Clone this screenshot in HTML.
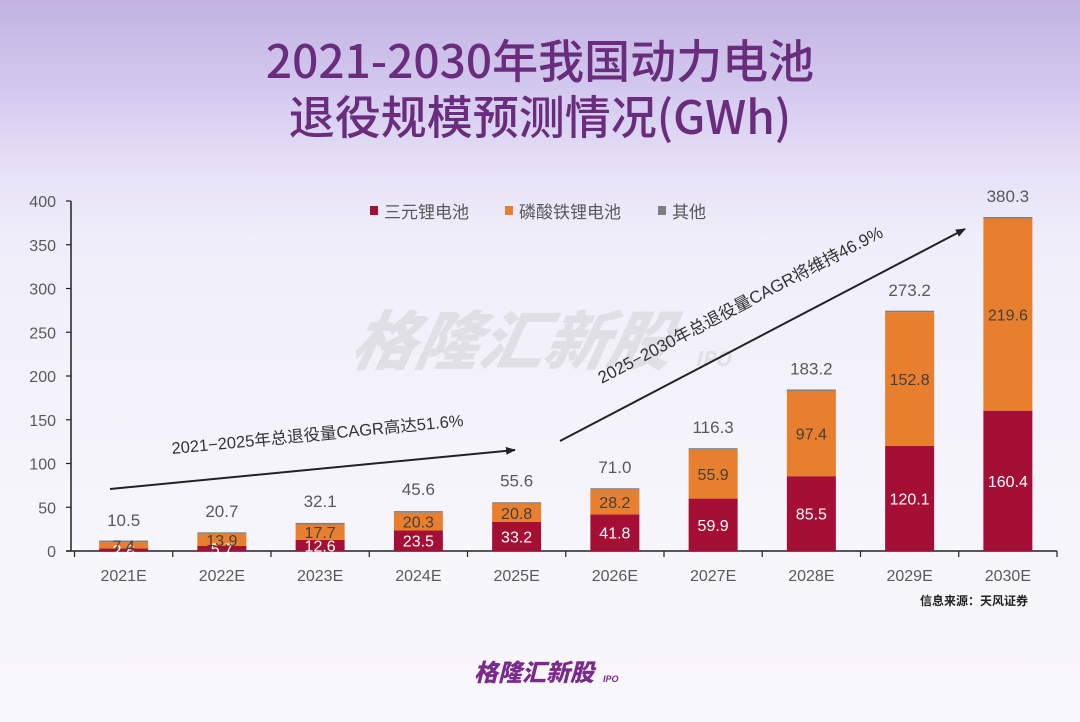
<!DOCTYPE html>
<html><head><meta charset="utf-8">
<style>
html,body{margin:0;padding:0;}
body{width:1080px;height:722px;overflow:hidden;position:relative;font-family:"Liberation Sans","Noto Sans CJK SC",sans-serif;
background:linear-gradient(180deg,#c2b3e2 0px,#d3c9ee 90px,#e6e1f7 170px,#f0eefa 240px,#f6f5fb 500px,#f8f7fb 722px);}
svg{position:absolute;left:0;top:0;}
</style></head>
<body>
<svg id="chart" width="1080" height="722" viewBox="0 0 1080 722">
  <text x="540" y="78" text-anchor="middle" font-size="46" fill="#6a2c7c" font-family="'Noto Sans CJK SC',sans-serif" font-weight="500">2021-2030年我国动力电池</text>
  <text x="540" y="134" text-anchor="middle" font-size="46" fill="#6a2c7c" font-family="'Noto Sans CJK SC',sans-serif" font-weight="500">退役规模预测情况(GWh)</text>
  <g fill="#e0dfe6" font-family="'Noto Sans CJK SC',sans-serif" font-weight="900" font-style="italic">
    <text x="350" y="364" font-size="64" transform="skewX(-12) translate(76,0)">格隆汇新股</text>
    <text x="695" y="366" font-size="20" font-style="italic" font-weight="bold">IPO</text>
  </g>
  <g id="axes"></g>
  <g id="bars"></g>
  <g font-size="17" fill="#595959" font-family="'Noto Sans CJK SC',sans-serif">
    <rect x="370" y="206" width="8" height="9" fill="#a50f35"/>
    <text x="384" y="218">三元锂电池</text>
    <rect x="505" y="206" width="8" height="9" fill="#e87f2e"/>
    <text x="519" y="218">磷酸铁锂电池</text>
    <rect x="658" y="206" width="8" height="9" fill="#7f7f7f"/>
    <text x="672" y="218">其他</text>
  </g>
  <defs><marker id="ah" markerWidth="10" markerHeight="8" refX="9" refY="4" orient="auto" markerUnits="userSpaceOnUse"><path d="M0,0 L10,4 L0,8 z" fill="#222"/></marker></defs>
  <line x1="110" y1="489" x2="515" y2="450" stroke="#222" stroke-width="2" marker-end="url(#ah)"/>
  <text x="318" y="440" font-size="16.5" fill="#333" text-anchor="middle" transform="rotate(-5.5 318 440)" font-family="'Liberation Sans','Noto Sans CJK SC',sans-serif">2021−2025年总退役量CAGR高达51.6%</text>
  <line x1="560" y1="441" x2="965" y2="229" stroke="#222" stroke-width="2" marker-end="url(#ah)"/>
  <text x="743" y="310" font-size="17" fill="#333" text-anchor="middle" transform="rotate(-27.6 743 310)" font-family="'Liberation Sans','Noto Sans CJK SC',sans-serif">2025−2030年总退役量CAGR将维持46.9%</text>
  <text x="1028" y="605" font-size="12" font-weight="bold" fill="#222" text-anchor="end" font-family="'Noto Sans CJK SC',sans-serif">信息来源：天风证券</text>
  <g>
    <text x="474" y="681" font-size="24" font-weight="900" font-style="italic" fill="#7a2a8a" font-family="'Noto Sans CJK SC',sans-serif">格隆汇新股</text>
    <text x="603" y="682" font-size="9" font-weight="bold" font-style="italic" fill="#7a2a8a">IPO</text>
  </g>
</svg>
<script>
const categories = ["2021E","2022E","2023E","2024E","2025E","2026E","2027E","2028E","2029E","2030E"];
const ncmValues = [2.8,5.7,12.6,23.5,33.2,41.8,59.9,85.5,120.1,160.4];
const lfpValues = [7.4,13.9,17.7,20.3,20.8,28.2,55.9,97.4,152.8,219.6];
const totalValues = [10.5,20.7,32.1,45.6,55.6,71.0,116.3,183.2,273.2,380.3];
const yTicks = [0,50,100,150,200,250,300,350,400];

const NS = "http://www.w3.org/2000/svg";
const plotLeft = 74.5, plotRight = 1057, baseY = 551, topY = 201, yMax = 400;
const band = (plotRight - plotLeft) / categories.length;
const barW = 49;
function y(v){ return baseY - v / yMax * (baseY - topY); }
function xc(i){ return plotLeft + band * (i + 0.5); }
function mk(tag, attrs, parent){ const e = document.createElementNS(NS, tag); for (const k in attrs) e.setAttribute(k, attrs[k]); parent.appendChild(e); return e; }

const axes = document.getElementById('axes');
const yAxis = mk('line', {x1:71, y1:201, x2:71, y2:551, stroke:'#222', 'stroke-width':1.5}, axes);


const xAxis = mk('line', {x1:66, y1:551, x2:plotRight, y2:551, stroke:'#222', 'stroke-width':1.5}, axes);


yTicks.forEach(t => {
  const tk = mk('line', {x1:66, y1:y(t), x2:71, y2:y(t), stroke:'#222', 'stroke-width':1.2}, axes);
  
  
  const lb = mk('text', {x:56, y:y(t)+6, 'text-anchor':'end', 'font-size':16, fill:'#595959'}, axes);
  lb.textContent = t;
  
  
});
for (let i = 0; i <= categories.length; i++) {
  const xx = plotLeft + band * i;
  const tk = mk('line', {x1:xx, y1:551, x2:xx, y2:557, stroke:'#222', 'stroke-width':1.2}, axes);
  
  
}
categories.forEach((c, i) => {
  const lb = mk('text', {x:xc(i), y:581, 'text-anchor':'middle', 'font-size':16, fill:'#595959'}, axes);
  lb.textContent = c;
  
  
});

const bars = document.getElementById('bars');
categories.forEach((c, i) => {
  const x0 = xc(i) - barW / 2;
  const n = ncmValues[i], l = lfpValues[i], t = totalValues[i];
  const other = Math.max(t - n - l, 0);
  const r1 = mk('rect', {x:x0, y:y(n), width:barW, height:baseY - y(n), fill:'#a50f35'}, bars);
  
  
  const r2 = mk('rect', {x:x0, y:y(n + l), width:barW, height:y(n) - y(n + l), fill:'#e87f2e'}, bars);
  
  
  const r3 = mk('rect', {x:x0, y:y(n + l) - Math.max(y(0) - y(other), 1.5), width:barW, height:Math.max(y(0) - y(other), 1.5), fill:'#7f7f7f'}, bars);
  
  
  const t1 = mk('text', {x:xc(i), y:(y(n) + baseY) / 2 + 6, 'text-anchor':'middle', 'font-size':16, fill:'#fff'}, bars);
  t1.textContent = n.toFixed(1);
  
  
  const t2 = mk('text', {x:xc(i), y:(y(n) + y(n + l)) / 2 + 6, 'text-anchor':'middle', 'font-size':16, fill:'#404040'}, bars);
  t2.textContent = l.toFixed(1);
  
  
  const t3 = mk('text', {x:xc(i), y:y(t) - 16, 'text-anchor':'middle', 'font-size':17, fill:'#595959'}, bars);
  t3.textContent = t.toFixed(1);
  
  
});
</script>
</body></html>
